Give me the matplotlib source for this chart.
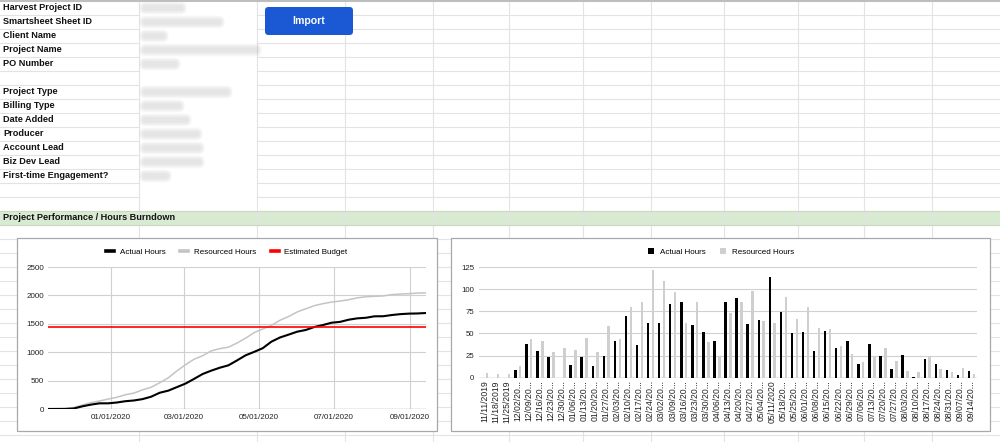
import matplotlib
matplotlib.use('Agg')
import matplotlib.pyplot as plt
import matplotlib.dates as mdates
from matplotlib.patches import Rectangle, FancyBboxPatch, Patch
from matplotlib.lines import Line2D
import numpy as np
import pandas as pd

plt.rcParams['font.family'] = ['Liberation Sans', 'DejaVu Sans']

# ---------------- data ----------------
field_labels = ["Harvest Project ID", "Smartsheet Sheet ID", "Client Name", "Project Name",
                "PO Number", "", "Project Type", "Billing Type", "Date Added", "Producer",
                "Account Lead", "Biz Dev Lead", "First-time Engagement?"]
section_title = "Project Performance / Hours Burndown"
button_text = "Import"

week_starts = ["11/11/2019", "11/18/2019", "11/25/2019", "12/02/2019", "12/09/2019",
               "12/16/2019", "12/23/2019", "12/30/2019", "01/06/2020", "01/13/2020",
               "01/20/2020", "01/27/2020", "02/03/2020", "02/10/2020", "02/17/2020",
               "02/24/2020", "03/02/2020", "03/09/2020", "03/16/2020", "03/23/2020",
               "03/30/2020", "04/06/2020", "04/13/2020", "04/20/2020", "04/27/2020",
               "05/04/2020", "05/11/2020", "05/18/2020", "05/25/2020", "06/01/2020",
               "06/08/2020", "06/15/2020", "06/22/2020", "06/29/2020", "07/06/2020",
               "07/13/2020", "07/20/2020", "07/27/2020", "08/03/2020", "08/10/2020",
               "08/17/2020", "08/24/2020", "08/31/2020", "09/07/2020", "09/14/2020"]

actual_hours = [0, 0, 0, 9, 38, 30, 23, 0, 14, 23, 13, 24, 42, 70, 37, 62, 62, 83, 86, 59,
                52, 42, 86, 90, 61, 65, 114, 74, 50, 52, 30, 53, 34, 41, 15, 38, 24, 10, 26,
                1, 21, 16, 9, 3, 8]
resourced_hours = [5, 4, 4, 13, 44, 42, 29, 34, 31, 45, 29, 58, 44, 80, 86, 122, 109, 97, 62,
                   85, 40, 25, 73, 86, 98, 64, 62, 91, 66, 80, 56, 55, 36, 27, 18, 24, 33, 19,
                   8, 6, 24, 10, 6, 11, 4]
estimated_budget = 1440

bar_tick_labels = ["11/11/2019", "11/18/2019", "11/25/2019", "12/02/20...", "12/09/20...",
                   "12/16/20...", "12/23/20...", "12/30/20...", "01/06/20...", "01/13/20...",
                   "01/20/20...", "01/27/20...", "02/03/20...", "02/10/20...", "02/17/20...",
                   "02/24/20...", "03/02/20...", "03/09/20...", "03/16/20...", "03/23/20...",
                   "03/30/20...", "04/06/20...", "04/13/20...", "04/20/20...", "04/27/20...",
                   "05/04/20...", "05/11/2020", "05/18/20...", "05/25/20...", "06/01/20...",
                   "06/08/20...", "06/15/20...", "06/22/20...", "06/29/20...", "07/06/20...",
                   "07/13/20...", "07/20/20...", "07/27/20...", "08/03/20...", "08/10/20...",
                   "08/17/20...", "08/24/20...", "08/31/20...", "09/07/20...", "09/14/20..."]
line_date_ticks = ["01/01/2020", "03/01/2020", "05/01/2020", "07/01/2020", "09/01/2020"]
line_y_ticks = [0, 500, 1000, 1500, 2000, 2500]
bar_y_ticks = [0, 25, 50, 75, 100, 125]

# decorative (blurred value column) widths in pixels
blur_widths = [40, 78, 22, 115, 34, 0, 86, 38, 45, 56, 58, 58, 25]

# ---------------- figure ----------------
W, H = 1000, 442
fig = plt.figure(figsize=(10, 4.42), dpi=100)
bg = fig.add_axes([0, 0, 1, 1])
bg.set_xlim(0, W)
bg.set_ylim(H, 0)
bg.axis('off')

grid_c = '#e3e3e3'
col_x = [139, 257, 345, 433, 509, 583, 651, 724, 798, 864, 932]
row_y = [1 + 14 * k for k in range(32)]

# green band
bg.add_patch(Rectangle((0, 211), W, 14, fc='#d9ead3', ec='none', zorder=0.5))
for y in row_y:
    if y < 205:
        bg.plot([0, 139], [y, y], color=grid_c, lw=0.8, zorder=1)
        bg.plot([257, W], [y, y], color=grid_c, lw=0.8, zorder=1)
    else:
        bg.plot([0, W], [y, y], color=grid_c, lw=0.8, zorder=1)
bg.plot([0, W], [211, 211], color='#c9d9c3', lw=0.8, zorder=1.1)
bg.plot([0, W], [225, 225], color='#c9d9c3', lw=0.8, zorder=1.1)
for x in col_x:
    bg.plot([x, x], [0, H], color=grid_c, lw=0.8, zorder=1)
bg.plot([0, W], [0.6, 0.6], color='#bdbdbd', lw=1.4, zorder=1.2)

# labels
for k, lab in enumerate(field_labels):
    if lab:
        bg.text(3, 8 + 14 * k, lab, fontsize=6.6, fontweight='bold', va='center',
                ha='left', color='#111111', zorder=3)
    w = blur_widths[k]
    if w > 0:
        for pad in [4.0, 3.2, 2.4, 1.6, 0.8, 0.0]:
            bg.add_patch(FancyBboxPatch((143 - pad, 5.5 - pad + 14 * k), w + 2 * pad,
                                        5 + 2 * pad,
                                        boxstyle='round,pad=0,rounding_size=%.1f' % (2.5 + pad),
                                        fc='#9a9a9a', ec='none', alpha=0.045, zorder=2))
bg.text(3, 218, section_title, fontsize=6.6, fontweight='bold', va='center', ha='left',
        color='#111111', zorder=3)

# import button
bg.add_patch(FancyBboxPatch((265, 7), 88, 28, boxstyle='round,pad=0,rounding_size=3.5',
                            fc='#1b58d3', ec='none', zorder=3))
bg.text(309, 21.5, button_text, fontsize=7.6, fontweight='bold', color='white',
        ha='center', va='center', zorder=4)

# chart boxes
for (x0, w) in [(17, 420), (451, 539)]:
    bg.add_patch(Rectangle((x0 + 1, 239), w, 193, fc='#d0d0d0', ec='none', zorder=1.5))
    bg.add_patch(Rectangle((x0, 238), w, 193, fc='white', ec='#a8a8a8', lw=0.9, zorder=2))

# ---------------- left: cumulative line chart ----------------
def fx(px):
    return px / W

def fy(py):
    return (H - py) / H

axL = fig.add_axes([fx(48), fy(409), fx(426) - fx(48), fy(267) - fy(409)])
axL.set_facecolor('none')
dates = pd.to_datetime(week_starts, format='%m/%d/%Y')
cum_actual = np.cumsum(actual_hours)
cum_resourced = np.cumsum(resourced_hours)
axL.plot(dates, cum_resourced, color='#c4c4c4', lw=1.1, zorder=3)
axL.plot(dates, cum_actual, color='black', lw=1.5, zorder=4)
axL.axhline(estimated_budget, color='#ff0000', lw=1.2, zorder=5)
axL.set_xlim(dates[0], dates[-1])
axL.set_ylim(0, 2500)
axL.set_yticks(line_y_ticks)
axL.set_xticks(pd.to_datetime(line_date_ticks, format='%m/%d/%Y'))
axL.xaxis.set_major_formatter(mdates.DateFormatter('%m/%d/%Y'))
axL.grid(True, color='#d0d0d0', lw=0.8, zorder=0)
axL.set_axisbelow(True)
axL.axhline(0, color='#8a8a8a', lw=0.9, zorder=2)
for s in axL.spines.values():
    s.set_visible(False)
axL.tick_params(length=0, labelsize=5.8, colors='#222222')
axL.tick_params(axis='y', pad=3)
axL.tick_params(axis='x', pad=3.5)

leg_handles_L = [Line2D([], [], color='black', lw=2.6),
                 Line2D([], [], color='#c4c4c4', lw=2.6),
                 Line2D([], [], color='#ff0000', lw=2.6)]
axL.legend(leg_handles_L, ['Actual Hours', 'Resourced Hours', 'Estimated Budget'],
           loc='center', bbox_to_anchor=(fx(227), fy(252)), bbox_transform=fig.transFigure,
           ncol=3, frameon=False, fontsize=5.8, handlelength=1.0, handletextpad=0.7,
           columnspacing=1.8, borderpad=0)

# ---------------- right: weekly bar chart ----------------
axR = fig.add_axes([fx(479), fy(377.7), fx(977) - fx(479), fy(267) - fy(377.7)])
axR.set_facecolor('none')
xs = np.arange(len(week_starts))
axR.bar(xs - 0.22, actual_hours, width=0.22, color='black', zorder=3)
axR.bar(xs + 0.22, resourced_hours, width=0.22, color='#cfcfcf', zorder=3)
axR.set_xlim(-0.5, len(week_starts) - 0.5)
axR.set_ylim(0, 125)
axR.set_yticks(bar_y_ticks)
axR.set_xticks(xs)
axR.set_xticklabels(bar_tick_labels, rotation=90, fontsize=6.2, va='top', ha='center')
axR.yaxis.grid(True, color='#d0d0d0', lw=0.8)
axR.set_axisbelow(True)
axR.axhline(0, color='#8a8a8a', lw=0.9, zorder=2)
for s in axR.spines.values():
    s.set_visible(False)
axR.tick_params(length=0, colors='#222222')
axR.tick_params(axis='y', labelsize=5.6, pad=3.5)
axR.tick_params(axis='x', pad=1.8)

leg_handles_R = [Patch(fc='black', ec='none'), Patch(fc='#cfcfcf', ec='none')]
axR.legend(leg_handles_R, ['Actual Hours', 'Resourced Hours'], loc='center',
           bbox_to_anchor=(fx(721), fy(252)), bbox_transform=fig.transFigure, ncol=2,
           frameon=False, fontsize=5.8, handlelength=0.75, handleheight=0.75,
           handletextpad=0.7, columnspacing=1.8, borderpad=0)

fig.savefig('out.png', dpi=100)
